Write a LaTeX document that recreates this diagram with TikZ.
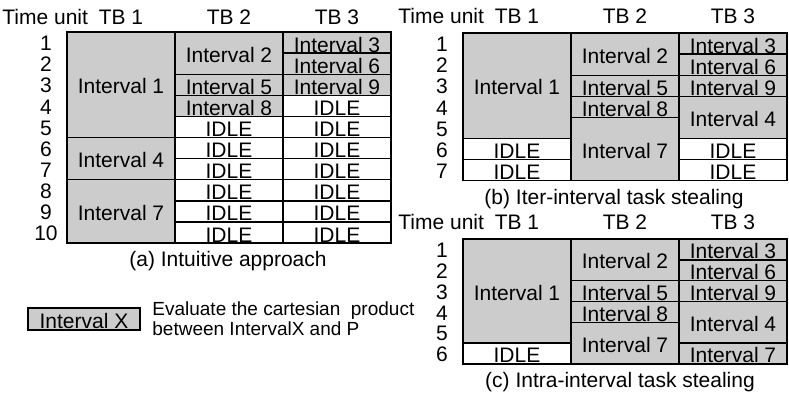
\documentclass[tikz,border=0pt]{standalone}
\usepackage{fontspec}
\setmainfont{Liberation Sans}

\begin{document}
\begin{tikzpicture}[x=0.5pt, y=-0.5pt,
    busy/.style={draw=black, line width=0.7pt, fill=black!20},
    idle/.style={draw=black, line width=0.7pt, fill=white},
    lbl/.style={inner sep=0pt, font=\fontsize{10.5pt}{12pt}\selectfont}]
  \useasboundingbox (0,0) rectangle (789,397);
  \def\colw{108}
  % \tcell{name}{column}{first row}{rows}{style}{text}: one block of a schedule
  \newcommand{\tcell}[6]{%
    \draw[#5] ({(#2-1)*\colw},{(#3-1)*\rowh}) rectangle ({#2*\colw},{(#3+#4-1)*\rowh});
    \ifnum#4=1
      \node[lbl, anchor=base] (#1) at ({(#2-0.5)*\colw},{#3*\rowh-1}) {#6};
    \else
      \node[lbl] (#1) at ({(#2-0.5)*\colw},{(#3+#4/2-1)*\rowh+1.5}) {#6};
    \fi}
  % \tbheads{prefix}{y}: the header line over a schedule
  \newcommand{\tbheads}[2]{%
    \node[lbl, anchor=west] (#1time) at (-65,#2) {Time unit};
    \foreach \c in {1,2,3}
      \node[lbl] (#1tb\c) at ({(\c-0.5)*\colw},#2) {TB \c};}
  % ---------------- (a) intuitive approach ----------------
  \begin{scope}[shift={(67,32)}]
    \def\rowh{21.1}
    \tbheads{a}{-15}
    \foreach \r in {1,...,10}
      \node[lbl] (anum\r) at (-21,{(\r-0.5)*\rowh+1}) {\r};
    \tcell{a1}{1}{1}{5}{busy}{Interval 1}
    \tcell{a4}{1}{6}{2}{busy}{Interval 4}
    \tcell{a7}{1}{8}{3}{busy}{Interval 7}
    \tcell{a2}{2}{1}{2}{busy}{Interval 2}
    \tcell{a5}{2}{3}{1}{busy}{Interval 5}
    \tcell{a8}{2}{4}{1}{busy}{Interval 8}
    \foreach \r in {5,...,10} {\tcell{aidleb\r}{2}{\r}{1}{idle}{IDLE}}
    \tcell{a3}{3}{1}{1}{busy}{Interval 3}
    \tcell{a6}{3}{2}{1}{busy}{Interval 6}
    \tcell{a9}{3}{3}{1}{busy}{Interval 9}
    \foreach \r in {4,...,10} {\tcell{aidlec\r}{3}{\r}{1}{idle}{IDLE}}
    \node[lbl, anchor=base] (acap) at (161,234) {(a) Intuitive approach};
  \end{scope}
  % ---------------- (b) iter-interval task stealing ----------------
  \begin{scope}[shift={(463,33)}]
    \def\rowh{21.1}
    \tbheads{b}{-17}
    \foreach \r in {1,...,7}
      \node[lbl] (bnum\r) at (-21,{(\r-0.5)*\rowh+1}) {\r};
    \tcell{b1}{1}{1}{5}{busy}{Interval 1}
    \tcell{bidlea6}{1}{6}{1}{idle}{IDLE}
    \tcell{bidlea7}{1}{7}{1}{idle}{IDLE}
    \tcell{b2}{2}{1}{2}{busy}{Interval 2}
    \tcell{b5}{2}{3}{1}{busy}{Interval 5}
    \tcell{b8}{2}{4}{1}{busy}{Interval 8}
    \tcell{b7}{2}{5}{3}{busy}{Interval 7}
    \tcell{b3}{3}{1}{1}{busy}{Interval 3}
    \tcell{b6}{3}{2}{1}{busy}{Interval 6}
    \tcell{b9}{3}{3}{1}{busy}{Interval 9}
    \tcell{b4}{3}{4}{2}{busy}{Interval 4}
    \tcell{bidlec6}{3}{6}{1}{idle}{IDLE}
    \tcell{bidlec7}{3}{7}{1}{idle}{IDLE}
    \node[lbl, anchor=base] (bcap) at (151,171) {(b) Iter-interval task stealing};
  \end{scope}
  % ---------------- (c) intra-interval task stealing ----------------
  \begin{scope}[shift={(463,239)}]
    \def\rowh{20.8}
    \tbheads{c}{-17}
    \foreach \r in {1,...,6}
      \node[lbl] (cnum\r) at (-21,{(\r-0.5)*\rowh+1}) {\r};
    \tcell{c1}{1}{1}{5}{busy}{Interval 1}
    \tcell{cidlea6}{1}{6}{1}{idle}{IDLE}
    \tcell{c2}{2}{1}{2}{busy}{Interval 2}
    \tcell{c5}{2}{3}{1}{busy}{Interval 5}
    \tcell{c8}{2}{4}{1}{busy}{Interval 8}
    \tcell{c7}{2}{5}{2}{busy}{Interval 7}
    \tcell{c3}{3}{1}{1}{busy}{Interval 3}
    \tcell{c6}{3}{2}{1}{busy}{Interval 6}
    \tcell{c9}{3}{3}{1}{busy}{Interval 9}
    \tcell{c4}{3}{4}{2}{busy}{Interval 4}
    \tcell{c7b}{3}{6}{1}{busy}{Interval 7}
    \node[lbl, anchor=base] (ccap) at (157,148) {(c) Intra-interval task stealing};
  \end{scope}
  % ---------------- legend ----------------
  \draw[busy] (28,308) rectangle (140,330);
  \node[lbl, anchor=base] (legbox) at (84,328) {Interval X};
  \node[anchor=base west, align=left, inner sep=0pt, font=\fontsize{9.5pt}{10pt}\selectfont]
    (legtext) at (152,335) {Evaluate the cartesian\ \ product\\between IntervalX and P};
\end{tikzpicture}
\end{document}
